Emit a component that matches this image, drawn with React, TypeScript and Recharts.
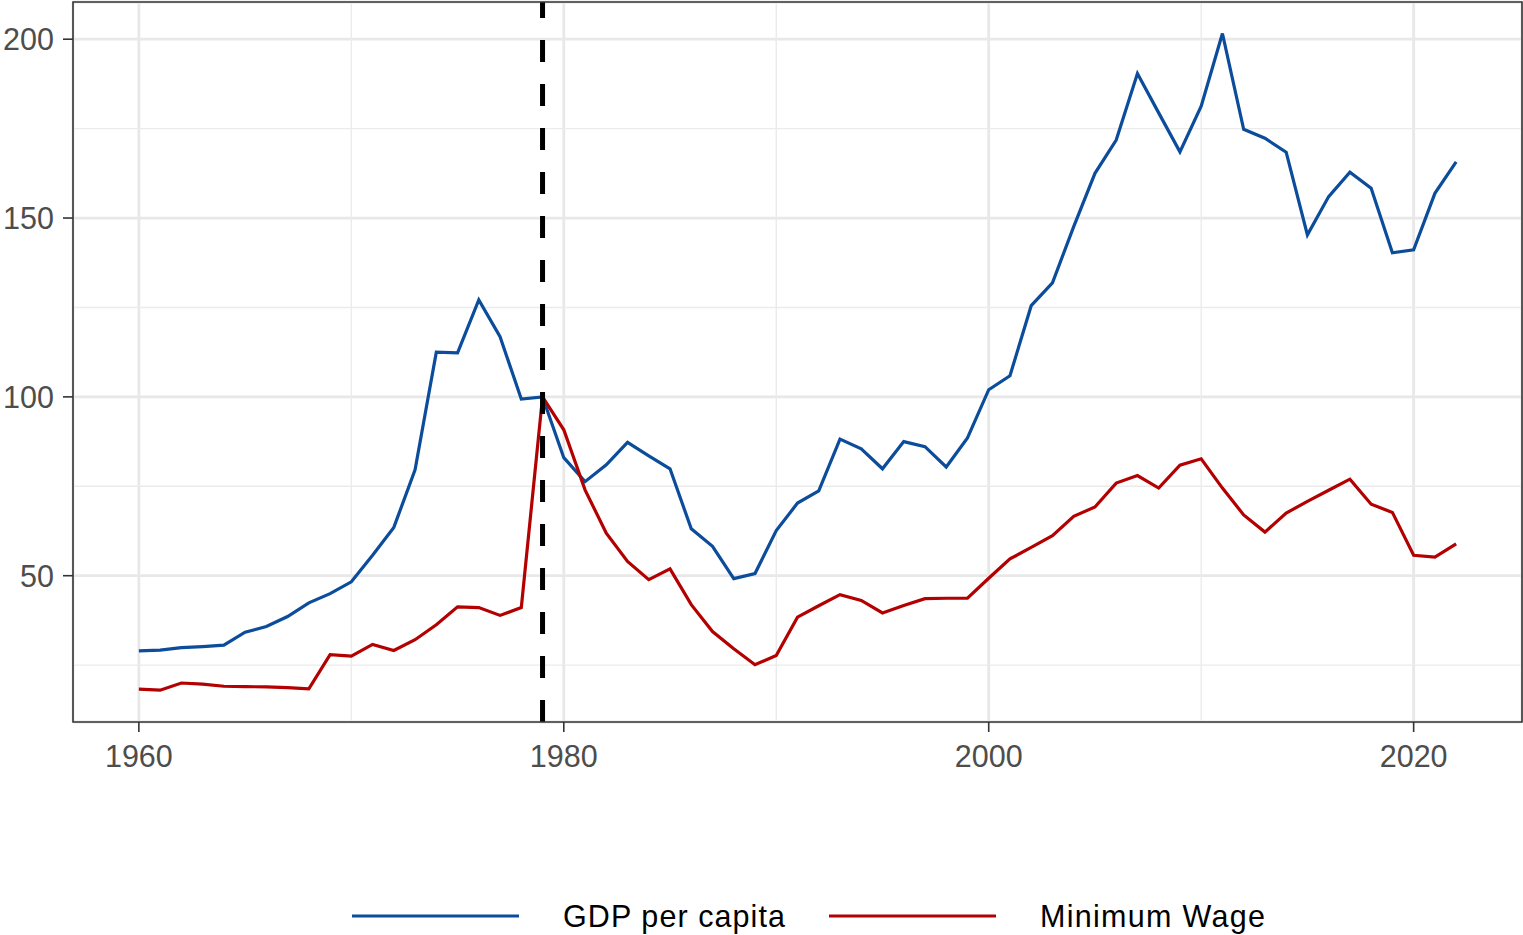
import { LineChart, Line, XAxis, YAxis, CartesianGrid, Legend, ReferenceLine, ReferenceArea } from 'recharts';

const years = [
  1960, 1961, 1962, 1963, 1964, 1965, 1966, 1967, 1968, 1969,
  1970, 1971, 1972, 1973, 1974, 1975, 1976, 1977, 1978, 1979,
  1980, 1981, 1982, 1983, 1984, 1985, 1986, 1987, 1988, 1989,
  1990, 1991, 1992, 1993, 1994, 1995, 1996, 1997, 1998, 1999,
  2000, 2001, 2002, 2003, 2004, 2005, 2006, 2007, 2008, 2009,
  2010, 2011, 2012, 2013, 2014, 2015, 2016, 2017, 2018, 2019,
  2020, 2021, 2022,
];

const gdpPerCapita = [
  29.0, 29.2, 29.9, 30.2, 30.6, 34.2, 35.8, 38.6, 42.4, 45.0,
  48.3, 55.7, 63.5, 79.6, 112.5, 112.3, 127.1, 116.8, 99.4, 100.0,
  83.0, 76.3, 81.0, 87.3, 83.5, 79.9, 63.1, 58.2, 49.2, 50.6,
  62.6, 70.3, 73.7, 88.2, 85.5, 79.9, 87.5, 86.1, 80.4, 88.5,
  102.0, 105.9, 125.5, 131.9, 147.6, 162.5, 171.8, 190.4, 179.4, 168.5,
  181.3, 201.6, 174.8, 172.3, 168.4, 145.3, 156.0, 162.8, 158.3, 140.3,
  141.1, 156.9, 165.7,
];

const minimumWage = [
  18.3, 18.0, 20.0, 19.7, 19.1, 19.0, 18.9, 18.7, 18.4, 27.9,
  27.5, 30.8, 29.1, 32.1, 36.3, 41.3, 41.1, 38.9, 41.1, 100.0,
  90.8, 74.0, 61.9, 54.0, 48.9, 51.9, 41.9, 34.4, 29.6, 25.1,
  27.7, 38.4, 41.6, 44.7, 43.1, 39.6, 41.7, 43.6, 43.7, 43.7,
  49.3, 54.7, 57.9, 61.2, 66.6, 69.2, 75.9, 78.0, 74.5, 80.9,
  82.7, 74.5, 67.0, 62.2, 67.5, 70.8, 73.9, 77.0, 70.0, 67.7,
  55.7, 55.2, 58.9,
];

const xTicks = [1960, 1980, 2000, 2020];
const xMinor = [1970, 1990, 2010];
const yTicks = [50, 100, 150, 200];
const yMinor = [25, 75, 125, 175];
const breakYear = 1979;

const xDomain = [1956.9, 2025.1];
const yDomain = [9.1, 210.4];

const seriesNames = ['GDP per capita', 'Minimum Wage'];
const BLUE = '#0b4c9b';
const RED = '#b30000';
const FONT = '"Liberation Sans", Arial, Helvetica, sans-serif';

const data = years.map((year, i) => ({
  year,
  gdp: gdpPerCapita[i],
  wage: minimumWage[i],
}));

const LegendBox = () => (
  <svg width={1523} height={100} style={{ display: 'block' }}>
    <line x1={352} x2={519} y1={81} y2={81} stroke={BLUE} strokeWidth={3.2} />
    <text x={563} y={92} fontSize={30.5} fontFamily={FONT} fill="#000" textLength={222} lengthAdjust="spacing">
      {seriesNames[0]}
    </text>
    <line x1={829} x2={996} y1={81} y2={81} stroke={RED} strokeWidth={3.2} />
    <text x={1040} y={92} fontSize={30.5} fontFamily={FONT} fill="#000" textLength={225} lengthAdjust="spacing">
      {seriesNames[1]}
    </text>
  </svg>
);

export default function App() {
  return (
    <div style={{ position: 'absolute', left: 0, top: 0, background: '#fff' }}>
      <LineChart width={1523} height={935} data={data} margin={{ top: 2, right: 1, bottom: 0, left: 0 }}>
        <CartesianGrid stroke="#e8e8e8" strokeWidth={2.8} />
        {yMinor.map((v) => (
          <ReferenceLine key={'ym' + v} y={v} stroke="#ebebeb" strokeWidth={1.4} zIndex={-50} />
        ))}
        {xMinor.map((v) => (
          <ReferenceLine key={'xm' + v} x={v} stroke="#ebebeb" strokeWidth={1.4} zIndex={-50} />
        ))}
        <XAxis
          dataKey="year"
          type="number"
          domain={xDomain}
          ticks={xTicks}
          allowDataOverflow
          height={113}
          axisLine={false}
          tickSize={10}
          tickMargin={13}
          tickLine={{ stroke: '#333333', strokeWidth: 1.6 }}
          tick={{ fill: '#4d4d4d', fontSize: 30.5, fontFamily: FONT }}
        />
        <YAxis
          type="number"
          domain={yDomain}
          ticks={yTicks}
          allowDataOverflow
          width={73}
          axisLine={false}
          tickSize={10}
          tickMargin={9}
          tickLine={{ stroke: '#333333', strokeWidth: 1.6 }}
          tick={{ fill: '#4d4d4d', fontSize: 30.5, fontFamily: FONT }}
        />
        <Line type="linear" dataKey="gdp" name={seriesNames[0]} stroke={BLUE} strokeWidth={3.2} dot={false} isAnimationActive={false} />
        <Line type="linear" dataKey="wage" name={seriesNames[1]} stroke={RED} strokeWidth={3.2} dot={false} isAnimationActive={false} />
        <ReferenceLine x={breakYear} stroke="#000" strokeWidth={5} strokeDasharray="22 22" zIndex={1000} />
        <ReferenceArea
          x1={xDomain[0]}
          x2={xDomain[1]}
          y1={yDomain[0]}
          y2={yDomain[1]}
          fill="none"
          stroke="#333333"
          strokeWidth={1.6}
          ifOverflow="visible"
          zIndex={1000}
        />
        <Legend
          verticalAlign="bottom"
          wrapperStyle={{ left: 0, width: 1523, height: 100 }}
          content={() => <LegendBox />}
        />
      </LineChart>
    </div>
  );
}
